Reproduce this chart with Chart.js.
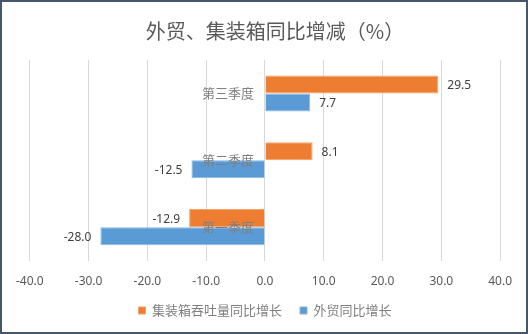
<!DOCTYPE html>
<html>
<head>
<meta charset="utf-8">
<script src="https://cdn.jsdelivr.net/npm/chart.js@4/dist/chart.umd.min.js"></script>
<style>
    html, body { margin: 0; padding: 0; background: #fff; }
    #box {
        width: 528px; height: 334px; box-sizing: border-box;
        border: 2px solid #46566b; background: #fff;
    }
    canvas { display: block; }
</style>
</head>
<body>
<div id="box"><canvas id="chart" width="524" height="330"></canvas></div>
<script>
const quarters = ['第一季度', '第二季度', '第三季度']
const containerGrowth = [-12.9, 8.1, 29.5]
const tradeGrowth = [-28.0, -12.5, 7.7]
const xTicks = [-40, -30, -20, -10, 0, 10, 20, 30, 40]

const numFont = '"Noto Sans", "Liberation Sans", sans-serif'
const cjkFont = '"Noto Sans CJK SC", sans-serif'

// values at the end of each bar, category names next to the zero line
const valueLabels = {
    id: 'valueLabels',
    afterDatasetsDraw(chart) {
        const c = chart.ctx
        c.save()
        c.textBaseline = 'middle'

        c.font = '12px ' + numFont
        c.fillStyle = '#404040'
        chart.data.datasets.forEach((ds, i) => {
            chart.getDatasetMeta(i).data.forEach((bar, j) => {
                const v = ds.data[j]
                if (v >= 0) {
                    c.textAlign = 'left'
                    c.fillText(v.toFixed(1), bar.x + 9, bar.y + 1)
                } else {
                    c.textAlign = 'right'
                    c.fillText(v.toFixed(1), bar.x - 9, bar.y + 1)
                }
            })
        })

        const xs = chart.scales.x
        const ys = chart.scales.y
        c.font = '13px ' + cjkFont
        c.fillStyle = '#7f7f7f'
        c.textAlign = 'right'
        quarters.forEach((q, i) => {
            c.fillText(q, xs.getPixelForValue(0) - 11, ys.getPixelForTick(i))
        })
        c.restore()
    }
}

const ctx = document.getElementById('chart').getContext('2d')

const chart = new Chart(ctx, {
    type: 'bar',
    data: {
        labels: quarters,
        datasets: [{
            label: '集装箱吞吐量同比增长',
            data: containerGrowth,
            backgroundColor: '#ED7D31',
            borderColor: '#F4A26C',
            borderWidth: 1
        }, {
            label: '外贸同比增长',
            data: tradeGrowth,
            backgroundColor: '#5B9BD5',
            borderColor: '#86B6E2',
            borderWidth: 1
        }]
    },
    options: {
        indexAxis: 'y',
        responsive: false,
        animation: false,
        datasets: {
            bar: { categoryPercentage: 0.54, barPercentage: 1.0 }
        },
        layout: { padding: { left: 16, right: 14, top: 6, bottom: 5 } },
        scales: {
            x: {
                min: -40,
                max: 40,
                afterBuildTicks: axis => { axis.ticks = xTicks.map(v => ({ value: v })) },
                afterFit: axis => { axis.height -= 17 },
                grid: { color: '#d9d9d9', drawTicks: false },
                border: { display: false },
                ticks: {
                    padding: 14,
                    color: '#595959',
                    font: { size: 12, family: numFont },
                    callback: v => v.toFixed(1)
                }
            },
            y: {
                position: { x: 0 },
                reverse: true,
                grid: { display: false },
                border: { display: false },
                ticks: { display: false }
            }
        },
        plugins: {
            title: {
                display: true,
                text: '\u2003外贸、集装箱同比增减（%）',
                color: '#595959',
                font: { size: 20, weight: 'normal', family: cjkFont },
                padding: { top: 11, bottom: 17 }
            },
            legend: {
                position: 'bottom',
                labels: {
                    boxWidth: 7,
                    boxHeight: 7,
                    color: '#7f7f7f',
                    font: { size: 13, family: cjkFont },
                    padding: 18
                }
            },
            tooltip: { enabled: false }
        }
    },
    plugins: [valueLabels]
})
</script>
</body>
</html>
